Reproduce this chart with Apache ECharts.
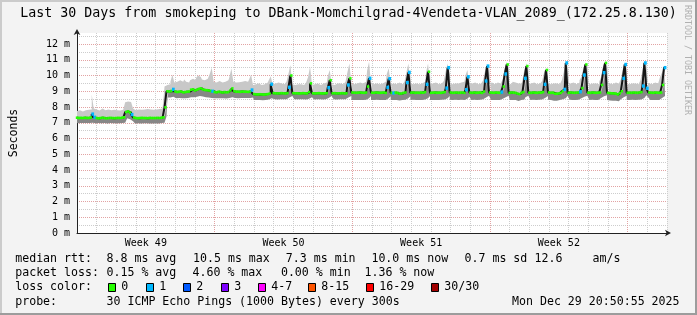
<!DOCTYPE html>
<html><head><meta charset="utf-8">
<script src="https://cdn.jsdelivr.net/npm/echarts@6/dist/echarts.min.js"></script>
<style>html,body{margin:0;padding:0;background:#f3f3f3}#c{width:697px;height:315px}</style>
</head><body><div id="c"></div>
<script>
const TITLE = 'Last 30 Days from smokeping to DBank-Momchilgrad-4Vendeta-VLAN_2089_(172.25.8.130)';
const STEP_DAYS = 0.1; // one sample every 0.1 day, 10 per day, 30 days
// median RTT (ms)
const medianMs = [
 7.32,7.30,7.31,7.30,7.32,7.30,7.31,7.33,7.55,7.35,
 7.30,7.28,7.30,7.32,7.30,7.28,7.30,7.31,7.30,7.29,
 7.30,7.31,7.30,7.32,7.35,7.68,7.72,7.65,7.52,7.33,
 7.30,7.29,7.30,7.31,7.30,7.30,7.29,7.31,7.30,7.30,
 7.30,7.31,7.30,7.32,7.35,7.98,9.00,8.98,9.02,9.12,
 8.98,8.95,8.97,8.98,8.93,8.95,8.97,8.98,9.10,9.12,
 9.05,9.10,9.15,9.18,9.12,9.08,9.07,9.05,9.02,9.00,
 8.95,8.93,8.97,8.95,8.92,8.95,8.93,8.95,9.05,9.18,
 9.00,8.97,8.97,8.96,8.98,8.97,8.97,8.96,8.98,9.08,
 8.82,8.80,8.80,8.81,8.80,8.79,8.80,8.82,8.85,9.45,
 8.88,8.87,8.86,8.87,8.88,8.87,8.86,8.88,9.25,10.00,
 8.88,8.87,8.87,8.86,8.87,8.88,8.87,8.86,8.95,9.50,
 8.87,8.86,8.87,8.88,8.87,8.86,8.87,8.88,9.23,9.70,
 8.87,8.88,8.86,8.87,8.87,8.88,8.86,8.87,9.40,9.82,
 8.92,8.91,8.90,8.91,8.92,8.91,8.90,8.92,9.30,9.82,
 8.91,8.90,8.92,8.91,8.90,8.91,8.92,8.90,9.25,9.80,
 8.90,8.89,8.91,8.90,8.85,8.86,8.90,8.92,9.55,10.20,
 8.91,8.92,8.90,8.91,8.90,8.92,8.91,8.95,9.44,10.24,
 8.90,8.91,8.92,8.90,8.91,8.90,8.92,8.95,9.20,10.50,
 8.92,8.90,8.91,8.92,8.90,8.91,8.92,8.90,9.10,9.92,
 8.91,8.90,8.92,8.90,8.91,8.92,8.90,8.98,9.65,10.60,
 8.92,8.91,8.90,8.92,8.91,8.90,8.95,9.30,10.10,10.70,
 8.90,8.92,8.91,8.90,8.85,8.82,8.90,8.95,9.82,10.60,
 8.91,8.90,8.92,8.91,8.90,8.92,8.91,8.95,9.44,10.35,
 8.92,8.90,8.91,8.85,8.84,8.86,8.90,9.00,9.12,10.80,
 8.90,8.92,8.91,8.90,8.91,8.92,8.97,9.20,10.03,10.70,
 8.91,8.90,8.92,8.91,8.90,8.91,8.92,9.40,10.18,10.80,
 8.90,8.88,8.87,8.86,8.85,8.80,8.87,9.00,9.82,10.70,
 8.90,8.91,8.90,8.92,8.91,8.90,8.92,8.95,9.33,10.80,
 9.19,8.92,8.91,8.90,8.92,8.91,8.90,8.92,9.40,10.50
];
// lower edge of the smoke (ms)
const minMs = [
 6.98,6.97,6.98,6.97,6.98,6.98,6.97,6.98,7.00,6.97,
 6.97,6.98,6.96,6.97,6.98,6.97,6.96,6.98,6.97,6.97,
 6.97,6.98,6.97,6.98,7.00,7.25,7.28,7.22,7.10,6.98,
 6.96,6.97,6.96,6.95,6.97,6.96,6.97,6.96,6.95,6.96,
 6.96,6.97,6.96,6.98,7.00,7.40,8.60,8.58,8.60,8.65,
 8.58,8.55,8.57,8.58,8.55,8.55,8.56,8.58,8.62,8.65,
 8.62,8.65,8.68,8.70,8.66,8.64,8.62,8.60,8.58,8.58,
 8.55,8.55,8.56,8.55,8.53,8.55,8.54,8.55,8.58,8.62,
 8.58,8.57,8.56,8.57,8.58,8.57,8.56,8.57,8.58,8.60,
 8.45,8.44,8.44,8.45,8.44,8.43,8.44,8.45,8.48,8.55,
 8.50,8.49,8.48,8.49,8.50,8.49,8.48,8.50,8.60,8.70,
 8.50,8.49,8.49,8.48,8.49,8.50,8.49,8.48,8.52,8.62,
 8.49,8.48,8.49,8.50,8.49,8.48,8.49,8.50,8.58,8.70,
 8.49,8.50,8.48,8.49,8.49,8.50,8.48,8.49,8.60,8.70,
 8.45,8.44,8.45,8.44,8.45,8.44,8.45,8.46,8.55,8.70,
 8.45,8.44,8.45,8.46,8.44,8.45,8.45,8.44,8.55,8.68,
 8.45,8.44,8.45,8.44,8.42,8.43,8.45,8.46,8.55,8.68,
 8.45,8.46,8.44,8.45,8.44,8.46,8.45,8.48,8.55,8.70,
 8.44,8.45,8.46,8.44,8.45,8.44,8.46,8.48,8.55,8.70,
 8.46,8.44,8.45,8.46,8.44,8.45,8.46,8.44,8.52,8.65,
 8.45,8.44,8.46,8.44,8.45,8.46,8.44,8.50,8.60,8.72,
 8.46,8.45,8.44,8.46,8.45,8.44,8.48,8.52,8.62,8.72,
 8.44,8.46,8.45,8.44,8.40,8.38,8.44,8.48,8.62,8.72,
 8.45,8.44,8.46,8.45,8.44,8.46,8.45,8.48,8.58,8.70,
 8.46,8.44,8.45,8.40,8.39,8.41,8.44,8.50,8.55,8.72,
 8.44,8.46,8.45,8.44,8.45,8.46,8.48,8.55,8.65,8.72,
 8.45,8.44,8.46,8.45,8.44,8.45,8.46,8.58,8.68,8.74,
 8.44,8.42,8.41,8.40,8.40,8.36,8.41,8.50,8.62,8.72,
 8.44,8.45,8.44,8.46,8.45,8.44,8.46,8.48,8.58,8.74,
 8.60,8.46,8.45,8.44,8.46,8.45,8.44,8.46,8.58,8.70
];
// upper edge of the smoke (ms)
const maxMs = [
 7.75,7.80,7.78,7.72,7.80,7.75,7.82,7.85,8.80,7.90,
 7.85,7.78,7.82,7.90,7.80,7.75,7.85,7.80,7.78,7.82,
 7.80,7.85,7.78,7.82,7.90,8.30,8.35,8.32,8.20,7.90,
 7.80,7.85,7.78,7.82,7.85,7.80,7.88,7.85,7.90,7.82,
 7.85,7.82,7.88,7.90,7.95,9.30,9.40,9.45,9.60,10.05,
 9.55,9.60,9.70,9.65,9.60,9.75,9.60,9.55,9.70,9.80,
 9.70,9.85,10.00,9.90,9.75,9.70,9.80,9.75,10.10,10.50,
 9.60,9.55,9.65,9.60,9.55,9.60,9.55,9.70,9.90,10.45,
 9.60,9.55,9.58,9.62,9.60,9.65,9.70,9.60,9.75,10.05,
 9.40,9.45,9.50,9.45,9.40,9.45,9.50,9.55,9.70,9.95,
 9.45,9.50,9.55,9.60,9.50,9.45,9.55,9.60,10.10,10.67,
 9.45,9.40,9.45,9.50,9.45,9.40,9.50,9.55,9.90,10.56,
 9.40,9.45,9.50,9.45,9.40,9.50,9.45,9.55,9.95,10.35,
 9.45,9.40,9.50,9.45,9.50,9.45,9.40,9.60,10.20,10.77,
 9.50,9.45,9.50,9.45,9.55,9.50,9.45,9.60,10.30,10.88,
 9.50,9.45,9.50,9.55,9.45,9.50,9.50,9.60,10.10,10.46,
 9.45,9.50,9.45,9.50,9.55,9.45,9.50,9.60,10.20,10.77,
 9.50,9.45,9.50,9.55,9.45,9.50,9.55,9.60,10.20,10.77,
 9.45,9.50,9.55,9.50,9.45,9.50,9.55,9.65,10.30,10.77,
 9.50,9.45,9.50,9.45,9.50,9.55,9.50,9.60,10.00,10.35,
 9.45,9.50,9.55,9.50,9.45,9.50,9.55,9.70,10.30,10.73,
 9.50,9.55,9.45,9.50,9.55,9.50,9.60,9.80,10.50,10.88,
 9.50,9.45,9.60,9.55,9.50,9.45,9.50,9.70,10.40,10.80,
 9.45,9.50,9.55,9.50,9.45,9.50,9.55,9.65,10.20,10.46,
 9.50,9.45,9.50,9.55,9.50,9.45,9.55,9.70,10.20,10.88,
 9.45,9.50,9.55,9.50,9.45,9.55,9.70,9.92,10.50,10.84,
 9.50,9.45,9.50,9.55,9.50,9.45,9.60,9.90,10.60,10.84,
 9.45,9.50,9.45,9.50,9.55,9.50,9.55,9.75,10.40,10.80,
 9.50,9.45,9.50,9.55,9.50,9.45,9.55,9.70,10.30,10.88,
 9.60,9.50,9.45,9.50,9.55,9.50,9.60,9.92,10.20,10.50
];
// sample indices with 1 of 30 pings lost
const lossSteps = [8,9,28,49,69,89,99,108,128,138,149,158,159,161,168,169,178,188,189,198,199,
  208,209,216,218,228,238,248,249,256,258,268,278,279,288,289,290,299];

const weekCenters = [3.5, 10.5, 17.5, 24.5];
const weekLabels = ['Week 49', 'Week 50', 'Week 51', 'Week 52'];
const yUnit = ' m';
const yAxisName = 'Seconds';

const lossLabels = ['0', '1', '2', '3', '4-7', '8-15', '16-29', '30/30'];
const lossColors = ['#26ff00', '#00b8ff', '#0059ff', '#7e00ff', '#ff00ff', '#ff5500', '#ff0000', '#a10000'];

const legendRows = [
  { y: 259, items: [['median rtt:', 15.2], ['8.8 ms avg', 106.5], ['10.5 ms max', 193], ['7.3 ms min', 285.8], ['10.0 ms now', 371.4], ['0.7 ms sd', 464.5], ['12.6', 534.5], ['am/s', 592.5]] },
  { y: 273.3, items: [['packet loss:', 15.2], ['0.15 % avg', 106.5], ['4.60 % max', 192.5], ['0.00 % min', 280.9], ['1.36 % now', 364.5]] },
  { y: 287.3, items: [['loss color:', 15.2]] },
  { y: 301.7, items: [['probe:', 15.2], ['30 ICMP Echo Pings (1000 Bytes) every 300s', 106.5], ['Mon Dec 29 20:50:55 2025', 512]] }
];
const lossBoxX = [108, 146, 183, 221, 258, 308, 366, 431];

const MONO = '"DejaVu Sans Mono", monospace';
// sample times in days; one extra slot closes the 30-day span
const times = medianMs.map((_, i) => (i * STEP_DAYS).toFixed(1));
const timeSlots = times.concat([(medianMs.length * STEP_DAYS).toFixed(1)]);
const lossSet = new Set(lossSteps);

const chart = echarts.init(document.getElementById('c'), null, { renderer: 'canvas' });

const graphics = [];
graphics.push({ type: 'rect', shape: { x: 0, y: 0, width: 697, height: 2 }, style: { fill: '#cbcbcb' }, silent: true });
graphics.push({ type: 'rect', shape: { x: 0, y: 0, width: 2, height: 315 }, style: { fill: '#cbcbcb' }, silent: true });
graphics.push({ type: 'rect', shape: { x: 695, y: 0, width: 2, height: 315 }, style: { fill: '#9c9c9c' }, silent: true });
graphics.push({ type: 'rect', shape: { x: 0, y: 313, width: 697, height: 2 }, style: { fill: '#9c9c9c' }, silent: true });
graphics.push({ type: 'text', x: 348.5, y: 14, style: { text: TITLE, font: '13.3px ' + MONO, fill: '#000', textAlign: 'center', textVerticalAlign: 'middle' }, silent: true });
graphics.push({ type: 'text', x: 687.5, y: 60, rotation: -Math.PI / 2, style: { text: 'RRDTOOL / TOBI OETIKER', font: '8.3px ' + MONO, fill: '#b0b0b0', textAlign: 'center', textVerticalAlign: 'middle' }, silent: true });
legendRows.forEach(r => r.items.forEach(([txt, x]) => {
  graphics.push({ type: 'text', x: x, y: r.y, style: { text: txt, font: '11.6px ' + MONO, fill: '#000', textAlign: 'left', textVerticalAlign: 'middle' }, silent: true });
}));
lossLabels.forEach((lab, k) => {
  graphics.push({ type: 'rect', shape: { x: lossBoxX[k] + 0.5, y: 283.5, width: 7, height: 8 }, style: { fill: lossColors[k], stroke: '#000', lineWidth: 1 }, silent: true });
  graphics.push({ type: 'text', x: lossBoxX[k] + 13.3, y: 287.3, style: { text: lab, font: '11.6px ' + MONO, fill: '#000', textAlign: 'left', textVerticalAlign: 'middle' }, silent: true });
});

const MGRID = '#e2a3a3';
const GRID = '#cdcdcd';
const S = { xAxisIndex: 2, symbol: 'none', silent: true };

chart.setOption({
  animation: false,
  backgroundColor: '#f3f3f3',
  grid: { left: 67, right: 30, top: 33, bottom: 82, show: true, backgroundColor: '#ffffff', borderWidth: 0 },
  xAxis: [{
    type: 'value', min: 0, max: 30, interval: 1,
    axisLine: { show: true, lineStyle: { color: '#222', width: 1 }, symbol: ['none', 'arrow'], symbolSize: [5, 6], symbolOffset: [0, 4] },
    axisTick: { show: false }, axisLabel: { show: false },
    splitLine: { show: true, lineStyle: { color: [MGRID, GRID, GRID, GRID, GRID, GRID, GRID], type: [1, 1], width: 1 } }
  }, {
    type: 'value', min: 0, max: 30, interval: 3.5, position: 'bottom',
    axisLine: { show: false }, axisTick: { show: false }, splitLine: { show: false },
    axisLabel: {
      show: true, margin: 5, color: '#000', fontFamily: MONO, fontSize: 10,
      formatter: v => { const k = weekCenters.indexOf(v); return k >= 0 ? weekLabels[k] : ''; }
    }
  }, {
    type: 'category', data: timeSlots, boundaryGap: false, position: 'bottom', show: false,
    axisLine: { show: false }, axisTick: { show: false }, axisLabel: { show: false }, splitLine: { show: false }
  }],
  yAxis: {
    type: 'value', min: 0, max: 12.7, interval: 0.5,
    name: yAxisName, nameLocation: 'middle', nameGap: 57, nameRotate: 90,
    nameTextStyle: { fontFamily: MONO, fontSize: 11.5, color: '#000' },
    axisLine: { show: true, lineStyle: { color: '#222', width: 1 }, symbol: ['none', 'arrow'], symbolSize: [5, 6], symbolOffset: [0, 4] },
    axisTick: { show: false },
    axisLabel: { margin: 7, color: '#000', fontFamily: MONO, fontSize: 10, formatter: v => Number.isInteger(v) ? v + yUnit : '' },
    splitLine: { show: true, showMaxLine: false, lineStyle: { color: [MGRID, GRID], type: [1, 1], width: 1 } }
  },
  series: [
    Object.assign({ type: 'line', stack: 'smoke', step: 'middle', lineStyle: { width: 0, opacity: 0 }, areaStyle: { opacity: 0 },
      data: minMs, z: 2 }, S),
    Object.assign({ type: 'line', stack: 'smoke', step: 'middle', lineStyle: { width: 0, opacity: 0 }, areaStyle: { color: '#878787', opacity: 1 },
      data: medianMs.map((m, i) => +(m - minMs[i]).toFixed(3)), z: 2 }, S),
    Object.assign({ type: 'line', stack: 'smoke', step: 'middle', lineStyle: { width: 0, opacity: 0 }, areaStyle: { color: '#c8c8c8', opacity: 1 },
      data: maxMs.map((m, i) => +(m - medianMs[i]).toFixed(3)), z: 2 }, S),
    Object.assign({ type: 'line', step: 'middle', lineStyle: { width: 2, color: '#151515' }, data: medianMs, z: 3 }, S),
    Object.assign({ type: 'scatter',
      symbolSize: (val, p) => lossSet.has(p.dataIndex) ? [2.8, 3.4] : [2.4, 2.6],
      itemStyle: { color: p => lossSet.has(p.dataIndex) ? lossColors[1] : lossColors[0], opacity: 1 },
      data: medianMs, z: 4 }, S, { symbol: 'rect' })
  ],
  graphic: { elements: graphics }
});
</script>
</body></html>
